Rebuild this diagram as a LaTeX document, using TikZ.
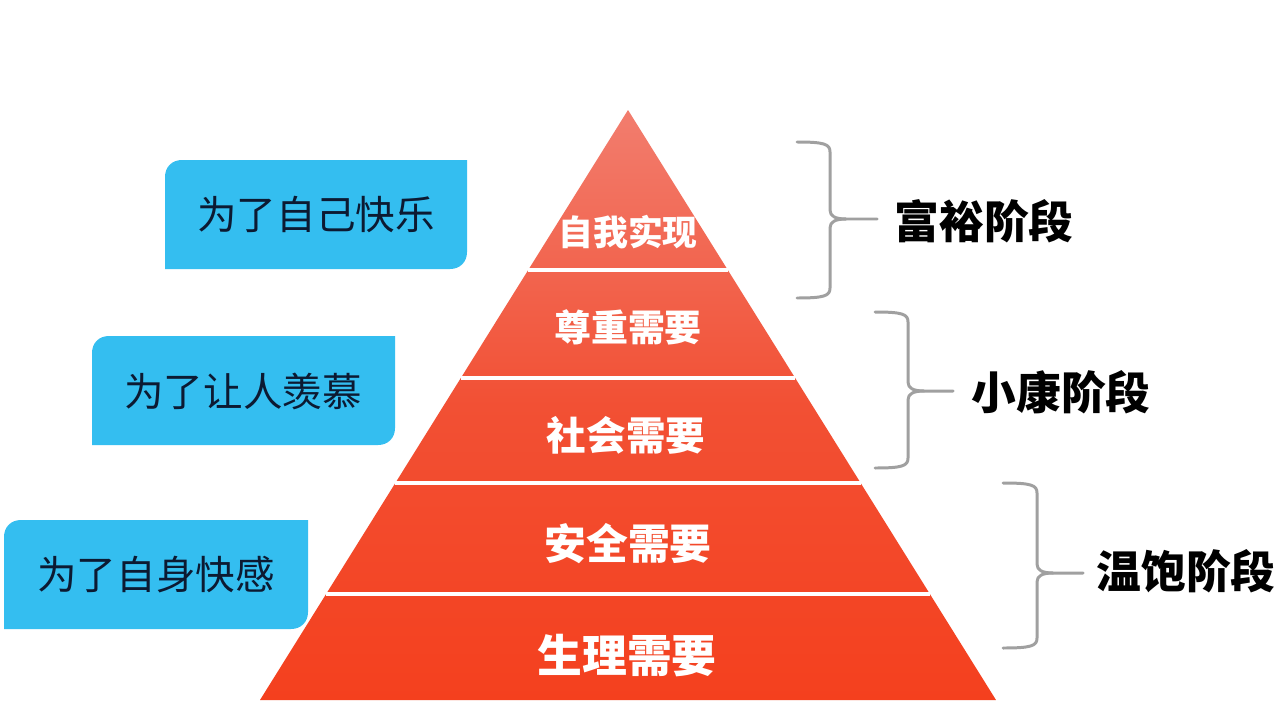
\documentclass[tikz,border=0pt]{standalone}
\usepackage{fontspec}
\newfontfamily\cjk{Noto Sans CJK SC}
\definecolor{boxblue}{RGB}{52,190,240}
\definecolor{boxtext}{RGB}{12,26,50}
\definecolor{bracegray}{RGB}{160,160,160}
\definecolor{pyrtop}{RGB}{242,125,110}
\definecolor{pyrbot}{RGB}{244,64,30}
\tikzset{
  boxlabel/.style={inner sep=0pt, text=boxtext, font=\cjk\fontsize{22.5}{24}\selectfont},
  pyrlabel/.style={inner sep=0pt, text=white, font=\cjk\bfseries\fontsize{#1}{#1}\selectfont},
  stagelabel/.style={inner sep=0pt, text=black, font=\cjk\bfseries\fontsize{25.5}{27}\selectfont},
  bracepath/.style={draw=bracegray, line width=1.7pt, line cap=round, line join=round},
  sepline/.style={draw=white, line width=2.3pt}
}
% #1 x of hooks, #2 x of spine, #3 y top, #4 y mid, #5 y bottom, #6 x of tip, #7 name of tip
\newcommand\stagebrace[7]{%
  \coordinate (#7) at (#6,#4);
  \draw[bracepath] (#1,#3) .. controls ({#2-6},#3) and (#2,{#3+2}) .. (#2,{#3+10})
     -- (#2,{#4-9}) .. controls (#2,{#4-3}) and ({#2+5},#4) .. ({#2+16},#4) -- (#7);
  \draw[bracepath] ({#2+16},#4) .. controls ({#2+5},#4) and (#2,{#4+3}) .. (#2,{#4+9})
     -- (#2,{#5-10}) .. controls (#2,{#5-2}) and ({#2-6},#5) .. (#1,#5);
}
% blue box with rounded top-left and bottom-right corners
\newcommand\bluebox[4]{%
  \fill[boxblue] (#1,#4) -- (#1,{#2+17}) .. controls (#1,{#2+7}) and ({#1+7},#2) .. ({#1+17},#2) -- (#3,#2)
    -- (#3,{#4-17}) .. controls (#3,{#4-7}) and ({#3-7},#4) .. ({#3-17},#4) -- cycle;
}
\begin{document}
\begin{tikzpicture}[x=0.02cm, y=-0.02cm]
\useasboundingbox (0,0) rectangle (1280,720);
\fill[white] (0,0) rectangle (1280,720);

% blue boxes
\bluebox{165}{160}{467}{269}
\bluebox{92}{336}{395}{445}
\bluebox{4}{520}{308}{629}
\node[boxlabel] (b1) at (316,215) {为了自己快乐};
\node[boxlabel] (b2) at (243,391) {为了让人羡慕};
\node[boxlabel] (b3) at (156,575) {为了自身快感};

% pyramid
\coordinate (apex) at (628,110);
\coordinate (bl) at (260,700);
\coordinate (br) at (996,700);
\shade[top color=pyrtop, bottom color=pyrbot, middle color={rgb,255:red,242;green,80;blue,52}] (apex) -- (br) -- (bl) -- cycle;
\coordinate (l1) at (528,270); \coordinate (r1) at (728,270);
\coordinate (l2) at (461,378); \coordinate (r2) at (795,378);
\coordinate (l3) at (395,483); \coordinate (r3) at (861,483);
\coordinate (l4) at (326,594); \coordinate (r4) at (930,594);
\draw[sepline] (l1) -- (r1);
\draw[sepline] (l2) -- (r2);
\draw[sepline] (l3) -- (r3);
\draw[sepline] (l4) -- (r4);

\node[pyrlabel=19.8] (p1) at (628,232) {自我实现};
\node[pyrlabel=21] (p2) at (628,327) {尊重需要};
\node[pyrlabel=22.5] (p3) at (626,435) {社会需要};
\node[pyrlabel=23.8] (p4) at (628,544) {安全需要};
\node[pyrlabel=25.5] (p5) at (627,656) {生理需要};

% braces
\stagebrace{797}{830}{142}{219}{298}{877}{t1}
\stagebrace{875}{908}{312}{391}{468}{953}{t2}
\stagebrace{1003}{1037}{483}{573}{648}{1083}{t3}

\node[stagelabel] (s1) at (984,221) {富裕阶段};
\node[stagelabel] (s2) at (1061,392) {小康阶段};
\node[stagelabel] (s3) at (1186,571) {温饱阶段};
\end{tikzpicture}
\end{document}
